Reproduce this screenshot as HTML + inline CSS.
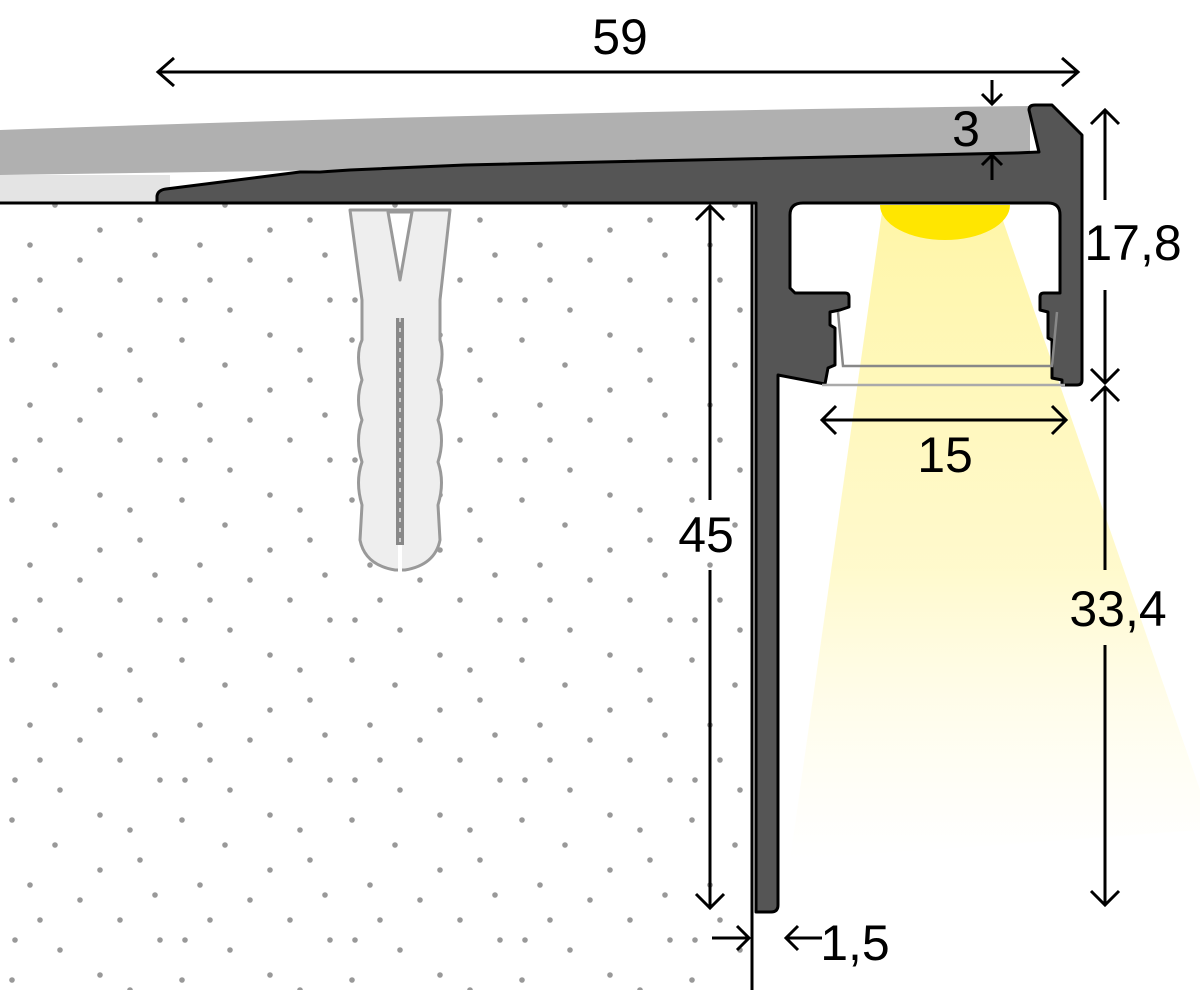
<!DOCTYPE html>
<html><head><meta charset="utf-8"><style>html,body{margin:0;padding:0;background:#fff}svg{display:block}</style></head>
<body>
<svg width="1200" height="990" viewBox="0 0 1200 990" xmlns="http://www.w3.org/2000/svg" font-family="Liberation Sans, sans-serif">
<defs>
<pattern id="dots" width="170" height="160" patternUnits="userSpaceOnUse">
<g fill="#999">
<circle cx="12" cy="20" r="2.8"/><circle cx="55" cy="45" r="2.8"/><circle cx="100" cy="15" r="2.8"/><circle cx="140" cy="60" r="2.8"/>
<circle cx="30" cy="85" r="2.8"/><circle cx="80" cy="100" r="2.8"/><circle cx="120" cy="120" r="2.8"/><circle cx="160" cy="140" r="2.8"/>
<circle cx="15" cy="140" r="2.8"/><circle cx="60" cy="150" r="2.8"/><circle cx="100" cy="70" r="2.8"/><circle cx="155" cy="95" r="2.8"/>
<circle cx="40" cy="120" r="2.8"/><circle cx="130" cy="30" r="2.8"/>
</g></pattern>
<linearGradient id="lg" x1="0" y1="0" x2="0" y2="1">
<stop offset="0" stop-color="#fff6a8" stop-opacity="1"/>
<stop offset="0.55" stop-color="#fff8c0" stop-opacity="0.8"/>
<stop offset="1" stop-color="#fffbe0" stop-opacity="0"/>
</linearGradient>
</defs>
<path d="M0,130 Q500,112 1030,106 L1030,160 L0,175 Z" fill="#b0b0b0"/>
<rect x="0" y="175" width="170" height="28" fill="#e4e4e4"/>
<rect x="0" y="203" width="752" height="787" fill="url(#dots)"/>
<line x1="0" y1="203" x2="740" y2="203" stroke="#000" stroke-width="3"/>
<line x1="752" y1="203" x2="752" y2="990" stroke="#000" stroke-width="3"/>
<path d="M882,212 L1000,212 L1200,790 L1200,830 L790,860 Z" fill="url(#lg)"/>
<path d="M157,203 L157,196 Q158,190 166,189 L300,172 L320,172 L350,170 L465,165 L1015,153 L1039,152 L1029,110 Q1029,105 1035,105 L1052,105 L1082,135 L1082,380 Q1082,385 1077,385 L1065,385 L1062,385 L1062,380 L1052,378 L1052,340 L1048,338 L1048,312 L1040,310 L1040,297 Q1040,293 1044,293 L1060,293 L1060,215 Q1060,203 1048,203 L803,203 Q790,203 790,215 L790,288 L795,293 L845,293 Q849,293 849,297 L849,307 L840,310 L830,312 L830,325 L835,328 L835,365 L828,368 L825,384 L778,375 L778,905 Q778,912 771,912 L756,912 L756,203 Z" fill="#555" stroke="#000" stroke-width="3" stroke-linejoin="round"/>
<path d="M880,205 A65,35 0 0 0 1010,205 Z" fill="#ffe600"/>
<polyline points="838,312 843,366 1052,366 1057,312" fill="none" stroke="#888" stroke-width="2.5"/>
<line x1="822" y1="385" x2="1065" y2="385" stroke="#aaa" stroke-width="2.5"/>
<g fill="#eee" stroke="#999" stroke-width="3" stroke-linejoin="round">
<path d="M350,210 L450,210 L440,300 L440,340 Q445,355 438,380 Q445,400 438,420 Q445,440 438,462 Q445,482 438,505 L440,540 Q435,565 405,570 L395,570 Q365,565 360,540 L362,505 Q355,482 362,462 Q355,440 362,420 Q355,400 362,380 Q355,355 362,340 L362,300 Z"/>
<path d="M388,212 L412,212 L400,280 Z" fill="#fff"/>
</g>
<line x1="400" y1="540" x2="400" y2="572" stroke="#fff" stroke-width="4"/>
<line x1="400" y1="318" x2="400" y2="545" stroke="#888" stroke-width="8"/>
<line x1="400" y1="318" x2="400" y2="545" stroke="#ccc" stroke-width="2" stroke-dasharray="4 6"/>
<g stroke="#000" stroke-width="3" fill="none">
<line x1="158" y1="72" x2="1078" y2="72"/><polyline points="174,58 158,72 174,86"/><polyline points="1062,58 1078,72 1062,86"/>
<line x1="992" y1="80" x2="992" y2="104"/><polyline points="982,94 992,104 1002,94"/>
<line x1="992" y1="180" x2="992" y2="155"/><polyline points="982,165 992,155 1002,165"/>
<line x1="1105" y1="110" x2="1105" y2="200"/><line x1="1105" y1="290" x2="1105" y2="383"/>
<polyline points="1091,124 1105,110 1119,124"/><polyline points="1091,369 1105,383 1119,369"/>
<line x1="1105" y1="387" x2="1105" y2="570"/><line x1="1105" y1="645" x2="1105" y2="905"/>
<polyline points="1091,401 1105,387 1119,401"/><polyline points="1091,891 1105,905 1119,891"/>
<line x1="710" y1="206" x2="710" y2="500"/><line x1="710" y1="570" x2="710" y2="908"/>
<polyline points="696,220 710,206 724,220"/><polyline points="696,894 710,908 724,894"/>
<line x1="822" y1="420" x2="1066" y2="420"/><polyline points="836,406 822,420 836,434"/><polyline points="1052,406 1066,420 1052,434"/>
<line x1="712" y1="938" x2="749" y2="938"/><polyline points="737,926 749,938 737,950"/>
<line x1="822" y1="938" x2="786" y2="938"/><polyline points="798,926 786,938 798,950"/>
</g>
<g font-size="50" fill="#000" text-anchor="middle">
<text x="620" y="54">59</text>
<text x="966" y="146">3</text>
<text x="1133" y="260">17,8</text>
<text x="1118" y="626">33,4</text>
<text x="706" y="552">45</text>
<text x="945" y="472">15</text>
<text x="855" y="960">1,5</text>
</g>
</svg>
</body></html>
